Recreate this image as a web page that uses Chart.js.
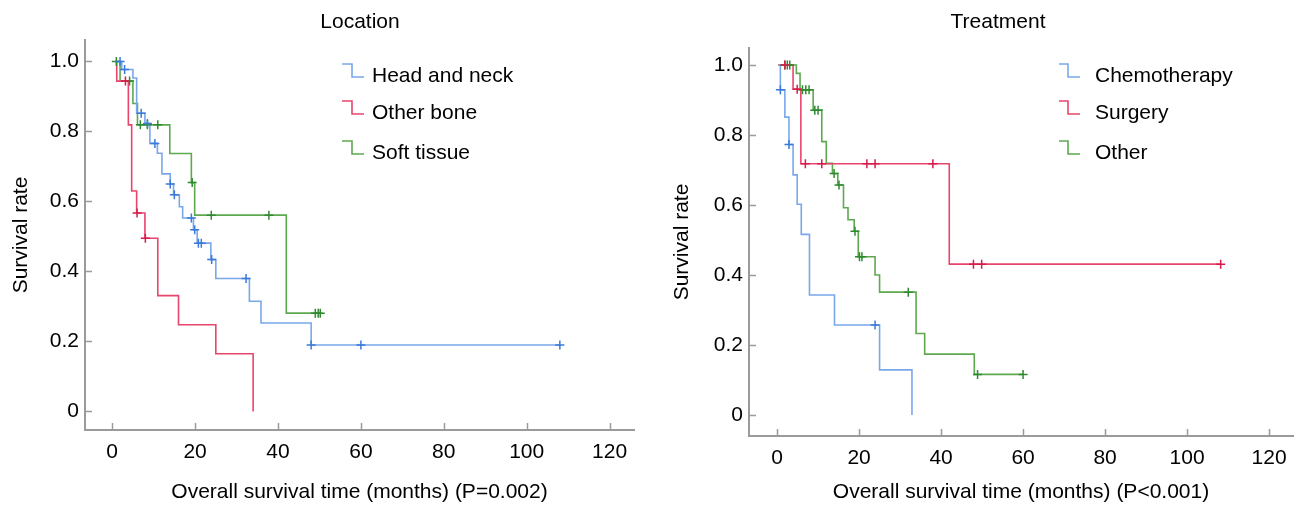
<!DOCTYPE html>
<html><head><meta charset="utf-8">
<script src="https://cdn.jsdelivr.net/npm/chart.js@4.4.0/dist/chart.umd.min.js"></script>
<style>
html,body{margin:0;padding:0;background:#fff;width:1299px;height:506px;overflow:hidden}
#l{position:absolute;left:0;top:0;width:640px;height:506px}
#r{position:absolute;left:640px;top:0;width:659px;height:506px}
canvas{display:block}
</style></head><body>
<div id="l"><canvas id="cl" width="640" height="506"></canvas></div>
<div id="r"><canvas id="cr" width="659" height="506"></canvas></div>
<script>
// ---------- Tick labels ----------
const xTicks = [0, 20, 40, 60, 80, 100, 120];
const yTicks = [0, 0.2, 0.4, 0.6, 0.8, 1.0];

// ---------- Location panel ----------
const locTitle = 'Location';
const locXTitle = 'Overall survival time (months) (P=0.002)';
const locNames = ['Head and neck', 'Other bone', 'Soft tissue'];

const hnTimes = [1.2, 2.3, 5.0, 5.9, 7.9, 9.1, 10.9, 12.0, 14.0, 14.8, 16.2, 17.0, 19.6, 20.5, 23.8, 25.0, 33.1, 35.9, 48.0, 108.0];
const hnSurv  = [1.0, 0.977, 0.953, 0.852, 0.823, 0.766, 0.738, 0.679, 0.650, 0.619, 0.585, 0.553, 0.519, 0.481, 0.434, 0.380, 0.315, 0.253, 0.190, 0.190];
const hnCensT = [1.9, 3.0, 7.0, 8.5, 10.3, 14.0, 15.0, 19.1, 19.9, 20.8, 21.5, 24.0, 32.3, 48.0, 60.0, 108.0];
const hnCensS = [1.0, 0.977, 0.852, 0.823, 0.766, 0.650, 0.619, 0.553, 0.519, 0.481, 0.481, 0.434, 0.380, 0.190, 0.190, 0.190];

const obTimes = [1.0, 1.1, 3.9, 4.7, 5.9, 7.9, 11.0, 16.0, 25.0, 34.0];
const obSurv  = [1.0, 0.944, 0.819, 0.630, 0.567, 0.495, 0.331, 0.248, 0.165, 0.0];
const obCensT = [3.2, 6.0, 8.0];
const obCensS = [0.944, 0.567, 0.495];

const stTimes = [0.8, 1.9, 5.0, 6.1, 13.9, 19.1, 19.9, 42.0, 50.2];
const stSurv  = [1.0, 0.944, 0.880, 0.819, 0.737, 0.654, 0.561, 0.281, 0.281];
const stCensT = [1.0, 4.2, 6.8, 8.5, 11.0, 19.3, 23.9, 37.8, 49.0, 49.7, 50.2];
const stCensS = [1.0, 0.944, 0.819, 0.819, 0.819, 0.654, 0.561, 0.561, 0.281, 0.281, 0.281];

// ---------- Treatment panel ----------
const trtTitle = 'Treatment';
const trtXTitle = 'Overall survival time (months) (P<0.001)';
const trtNames = ['Chemotherapy', 'Surgery', 'Other'];

const chTimes = [0.3, 0.8, 1.9, 2.9, 3.9, 4.9, 5.9, 7.9, 14.0, 25.0, 32.9];
const chSurv  = [1.0, 0.929, 0.851, 0.773, 0.686, 0.602, 0.516, 0.343, 0.257, 0.129, 0.0];
const chCensT = [0.8, 2.9, 23.9];
const chCensS = [0.929, 0.773, 0.257];

const suTimes = [0.3, 3.9, 5.8, 42.0, 108.2];
const suSurv  = [1.0, 0.931, 0.718, 0.431, 0.431];
const suCensT = [1.9, 4.9, 6.9, 10.9, 21.9, 23.9, 38.0, 47.9, 49.9, 108.2];
const suCensS = [1.0, 0.931, 0.718, 0.718, 0.718, 0.718, 0.718, 0.431, 0.431, 0.431];

const otTimes = [0.3, 4.7, 5.6, 8.8, 10.9, 12.0, 13.5, 14.8, 16.2, 17.3, 18.8, 19.8, 23.9, 25.0, 33.9, 36.0, 48.1, 60.0];
const otSurv  = [1.0, 0.976, 0.929, 0.871, 0.781, 0.719, 0.690, 0.657, 0.592, 0.558, 0.525, 0.452, 0.400, 0.351, 0.233, 0.174, 0.116, 0.116];
const otCensT = [1.9, 2.5, 3.1, 6.2, 7.0, 7.8, 9.2, 10.0, 13.9, 15.1, 19.0, 20.1, 20.7, 32.0, 48.9, 60.0];
const otCensS = [1.0, 1.0, 1.0, 0.929, 0.929, 0.929, 0.871, 0.871, 0.690, 0.657, 0.525, 0.452, 0.452, 0.351, 0.116, 0.116];

// ---------- Styles ----------
const lineColors = ['#79a8ea', '#e8456c', '#5ea850'];
const markColors = ['#3b7ad8', '#d81c4a', '#2f8a30'];
const FONT = '"Liberation Sans", Arial, Helvetica, sans-serif';
Chart.defaults.font.family = FONT;
Chart.defaults.color = '#000';

function pts(t, s) { return t.map((v, i) => ({x: v, y: s[i]})); }

function buildDatasets(names, curves, cens) {
  const ds = [];
  curves.forEach((c, i) => {
    ds.push({label: names[i], data: pts(c[0], c[1]), stepped: 'before', borderColor: lineColors[i],
      borderWidth: 1.6, pointRadius: 0, fill: false, tension: 0, order: 2});
  });
  cens.forEach((c, i) => {
    ds.push({label: names[i] + ' censored', data: pts(c[0], c[1]), showLine: false, pointStyle: 'cross',
      pointRadius: 4.5, pointBorderWidth: 1.5, borderColor: markColors[i], pointBorderColor: markColors[i],
      backgroundColor: markColors[i], order: 1});
  });
  return ds;
}

const kmPlugin = {
  id: 'km',
  afterDraw(chart, args, o) {
    const ctx = chart.ctx, xs = chart.scales.x, ys = chart.scales.y, ca = chart.chartArea;
    ctx.save();
    ctx.strokeStyle = '#9a9a9a'; ctx.lineWidth = 1.5;
    xTicks.forEach(v => { const p = Math.round(xs.getPixelForValue(v)) + 0.5;
      ctx.beginPath(); ctx.moveTo(p, ca.bottom); ctx.lineTo(p, ca.bottom - 7); ctx.stroke(); });
    yTicks.forEach(v => { const p = Math.round(ys.getPixelForValue(v)) + 0.5;
      ctx.beginPath(); ctx.moveTo(ca.left, p); ctx.lineTo(ca.left + 7, p); ctx.stroke(); });
    ctx.fillStyle = '#000'; ctx.font = '21px ' + FONT; ctx.textAlign = 'center'; ctx.textBaseline = 'middle';
    ctx.fillText(o.title, o.titleX, o.titleY);
    ctx.textAlign = 'left';
    o.names.forEach((n, i) => {
      const c = o.rows[i];
      ctx.strokeStyle = lineColors[i]; ctx.lineWidth = 1.6;
      ctx.beginPath();
      ctx.moveTo(o.gx0, c - 12); ctx.lineTo(o.gx1, c - 12); ctx.lineTo(o.gx1, c + 1); ctx.lineTo(o.gx2, c + 1);
      ctx.stroke();
      ctx.fillText(n, o.tx, c);
    });
    ctx.restore();
  }
};

function makeChart(id, cfg) {
  return new Chart(document.getElementById(id), {
    type: 'line',
    data: {datasets: cfg.datasets},
    plugins: [kmPlugin],
    options: {
      responsive: false, animation: false, devicePixelRatio: 1,
      layout: {padding: cfg.padding},
      plugins: {legend: {display: false}, tooltip: {enabled: false}, title: {display: false}, km: cfg.km},
      scales: {
        x: {type: 'linear', min: cfg.xmin, max: cfg.xmax,
          afterBuildTicks: s => { s.ticks = xTicks.map(v => ({value: v})); },
          afterFit: s => { s.height = cfg.xh; },
          grid: {display: false, drawTicks: false},
          border: {display: true, color: '#9a9a9a', width: 2},
          ticks: {font: {size: 21}, color: '#000', padding: 10, maxRotation: 0, autoSkip: false, callback: v => String(v)},
          title: {display: true, text: cfg.xTitle, font: {size: 21}, color: '#000', padding: {top: 0, bottom: 1.4}}
        },
        y: {type: 'linear', min: cfg.ymin, max: cfg.ymax,
          afterBuildTicks: s => { s.ticks = yTicks.map(v => ({value: v})); },
          afterFit: s => { s.width = cfg.yw; },
          grid: {display: false, drawTicks: false},
          border: {display: true, color: '#9a9a9a', width: 2},
          ticks: {font: {size: 21}, color: '#000', padding: 6, autoSkip: false, callback: v => v === 0 ? '0' : v.toFixed(1)},
          title: {display: true, text: 'Survival rate', font: {size: 21}, color: '#000', padding: {top: cfg.ytp, bottom: 0}}
        }
      }
    }
  });
}

makeChart('cl', {
  datasets: buildDatasets(locNames,
    [[hnTimes, hnSurv], [obTimes, obSurv], [stTimes, stSurv]],
    [[hnCensT, hnCensS], [obCensT, obCensS], [stCensT, stCensS]]),
  padding: {left: 0, right: 4, top: 40, bottom: 0},
  xmin: -6.56, xmax: 125.89, ymin: -0.0529, ymax: 1.0614, xh: 76, yw: 85, ytp: 8.4,
  xTitle: locXTitle,
  km: {title: locTitle, titleX: 360, titleY: 22, names: locNames, rows: [76, 113, 153], gx0: 342, gx1: 352, gx2: 364, tx: 372}
});

makeChart('cr', {
  datasets: buildDatasets(trtNames,
    [[chTimes, chSurv], [suTimes, suSurv], [otTimes, otSurv]],
    [[chCensT, chCensS], [suCensT, suCensS], [otCensT, otCensS]]),
  padding: {left: 0, right: 2, top: 48, bottom: 0},
  xmin: -6.85, xmax: 125.84, ymin: -0.06, ymax: 1.0486, xh: 70, yw: 109, ytp: 29.4,
  xTitle: trtXTitle,
  km: {title: trtTitle, titleX: 358, titleY: 22, names: trtNames, rows: [76, 113, 153], gx0: 419, gx1: 428, gx2: 440, tx: 455}
});
</script>
</body></html>
